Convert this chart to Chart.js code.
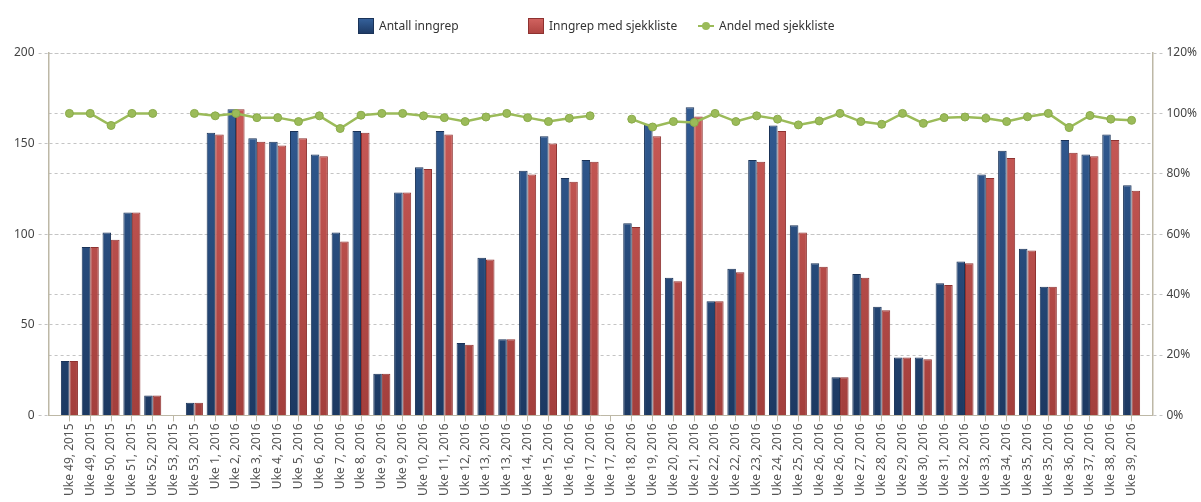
<!DOCTYPE html>
<html>
<head>
<meta charset="utf-8">
<script src="https://cdn.jsdelivr.net/npm/chart.js@4.4.1/dist/chart.umd.min.js"></script>
<style>
  html, body { margin: 0; padding: 0; background: #fff; }
  #wrap { position: relative; width: 1201px; height: 502px; }
  #legend { position: absolute; top: 17px; left: 358px; display: flex; font-family: "Noto Sans", sans-serif; font-size: 12px; color: #333; z-index: 2; }
  .item { width: 170px; display: flex; align-items: center; white-space: nowrap; }
  .box { width: 16px; height: 16px; margin-right: 5px; box-sizing: border-box; }
  .b1 { background: linear-gradient(#34609a, #1e3b66); border: 1px solid #1a3358; }
  .b2 { background: linear-gradient(#d0625f, #b04542); border: 1px solid #8e3230; }
  .ln { width: 16px; height: 10px; margin-right: 5px; position: relative; }
  .ln::before { content: ""; position: absolute; left: 0; right: 0; top: 4px; height: 2px; background: #9bbb59; }
  .ln::after { content: ""; position: absolute; left: 4px; top: 1px; width: 8px; height: 8px; border-radius: 50%; background: #9bbb59; }
  canvas { position: absolute; left: 0; top: 0; }
</style>
</head>
<body>
<div id="wrap">
  <canvas id="c" width="1201" height="502"></canvas>
  <div id="legend">
    <div class="item"><span class="box b1"></span>Antall inngrep</div>
    <div class="item"><span class="box b2"></span>Inngrep med sjekkliste</div>
    <div class="item"><span class="ln"></span>Andel med sjekkliste</div>
  </div>
</div>
<script>
const categories = [
  "Uke 49, 2015","Uke 49, 2015","Uke 50, 2015","Uke 51, 2015","Uke 52, 2015","Uke 53, 2015","Uke 53, 2015",
  "Uke 1, 2016","Uke 2, 2016","Uke 3, 2016","Uke 4, 2016","Uke 5, 2016","Uke 6, 2016","Uke 7, 2016","Uke 8, 2016",
  "Uke 9, 2016","Uke 9, 2016","Uke 10, 2016","Uke 11, 2016","Uke 12, 2016","Uke 13, 2016","Uke 13, 2016",
  "Uke 14, 2016","Uke 15, 2016","Uke 16, 2016","Uke 17, 2016","Uke 17, 2016","Uke 18, 2016","Uke 19, 2016",
  "Uke 20, 2016","Uke 21, 2016","Uke 22, 2016","Uke 22, 2016","Uke 23, 2016","Uke 24, 2016","Uke 25, 2016",
  "Uke 26, 2016","Uke 26, 2016","Uke 27, 2016","Uke 28, 2016","Uke 29, 2016","Uke 30, 2016","Uke 31, 2016",
  "Uke 32, 2016","Uke 33, 2016","Uke 34, 2016","Uke 35, 2016","Uke 35, 2016","Uke 36, 2016","Uke 37, 2016",
  "Uke 38, 2016","Uke 39, 2016"
];
const antallInngrep = [
  30, 93, 101, 112, 11, 0, 7,
  156, 169, 153, 151, 157, 144, 101, 157,
  23, 123, 137, 157, 40, 87, 42,
  135, 154, 131, 141, 0, 106, 161,
  76, 170, 63, 81, 141, 160, 105,
  84, 21, 78, 60, 32, 32, 73,
  85, 133, 146, 92, 71, 152, 144,
  155, 127
];
const inngrepMedSjekkliste = [
  30, 93, 97, 112, 11, 0, 7,
  155, 169, 151, 149, 153, 143, 96, 156,
  23, 123, 136, 155, 39, 86, 42,
  133, 150, 129, 140, 0, 104, 154,
  74, 165, 63, 79, 140, 157, 101,
  82, 21, 76, 58, 32, 31, 72,
  84, 131, 142, 91, 71, 145, 143,
  152, 124
];
const andelMedSjekkliste = [
  100, 100, 96.0, 100, 100, null, 100,
  99.2, 100, 98.6, 98.6, 97.3, 99.2, 95.0, 99.4,
  100, 100, 99.2, 98.6, 97.3, 98.8, 100,
  98.6, 97.3, 98.4, 99.2, null, 98.1, 95.5,
  97.3, 97.0, 100, 97.3, 99.2, 98.1, 96.2,
  97.5, 100, 97.3, 96.4, 100, 96.7, 98.6,
  98.8, 98.4, 97.3, 98.9, 100, 95.3, 99.3,
  98.1, 97.7
];
const leftTicks = [0, 50, 100, 150, 200];
const rightTicks = [0, 20, 40, 60, 80, 100, 120];

function grad(ctx, top, bottom) {
  const chart = ctx.chart;
  const area = chart.chartArea;
  if (!area) return top;
  const g = chart.ctx.createLinearGradient(0, area.top, 0, area.bottom);
  g.addColorStop(0, top);
  g.addColorStop(1, bottom);
  return g;
}

const fontFam = '"Noto Sans", sans-serif';
const axisColor = '#bdb8a6';
const gridColor = '#c4c4c4';

new Chart(document.getElementById('c'), {
  data: {
    labels: categories,
    datasets: [
      {
        type: 'line', label: 'Andel med sjekkliste', data: andelMedSjekkliste, yAxisID: 'y1',
        borderColor: '#9bbb59', backgroundColor: '#9bbb59', borderWidth: 2.5,
        pointRadius: 4, pointHoverRadius: 4, pointBackgroundColor: '#9bbb59', pointBorderColor: '#8aab4a', pointBorderWidth: 1,
        spanGaps: false, tension: 0, order: 0
      },
      {
        type: 'bar', label: 'Antall inngrep', data: antallInngrep, yAxisID: 'y',
        backgroundColor: ctx => grad(ctx, '#35619b', '#1c3962'),
        borderColor: '#1a3358', borderWidth: 1,
        categoryPercentage: 0.82, barPercentage: 1.0, order: 1
      },
      {
        type: 'bar', label: 'Inngrep med sjekkliste', data: inngrepMedSjekkliste, yAxisID: 'y',
        backgroundColor: ctx => grad(ctx, '#cf5f5c', '#a33f3c'),
        borderColor: '#8e3230', borderWidth: 1,
        categoryPercentage: 0.82, barPercentage: 1.0, order: 1
      }
    ]
  },
  options: {
    responsive: false,
    animation: false,
    layout: { padding: { top: 53, left: 10, right: 0, bottom: 4 } },
    plugins: { legend: { display: false }, tooltip: { enabled: false } },
    scales: {
      x: {
        type: 'category',
        offset: false,
        afterBuildTicks: s => { s._startValue = -1; s._valueRange = s.getLabels().length + 1; },
        border: { display: true, color: axisColor, width: 1 },
        grid: { display: true, drawOnChartArea: false, drawTicks: true, tickLength: 6, color: axisColor, offset: false },
        ticks: { autoSkip: false, maxRotation: 90, minRotation: 90, color: '#555', font: { family: fontFam, size: 12 }, padding: 2 }
      },
      y: {
        position: 'left', min: 0, max: 200,
        afterBuildTicks: s => { s.ticks = leftTicks.map(v => ({ value: v })); },
        border: { display: true, color: axisColor, width: 1.5, dash: [3, 3] },
        grid: { color: gridColor, lineWidth: 1, tickBorderDash: [3, 3], tickLength: 10, tickColor: gridColor },
        ticks: { color: '#444', font: { family: fontFam, size: 12 }, padding: 4 }
      },
      y1: {
        position: 'right', min: 0, max: 120,
        afterBuildTicks: s => { s.ticks = rightTicks.map(v => ({ value: v })); },
        border: { display: true, color: axisColor, width: 1.5, dash: [3, 3] },
        grid: { color: gridColor, lineWidth: 1, tickBorderDash: [3, 3], tickLength: 10, tickColor: gridColor },
        ticks: { color: '#444', font: { family: fontFam, size: 12 }, padding: 4, callback: v => v + '%' }
      }
    }
  }
});
</script>
</body>
</html>
